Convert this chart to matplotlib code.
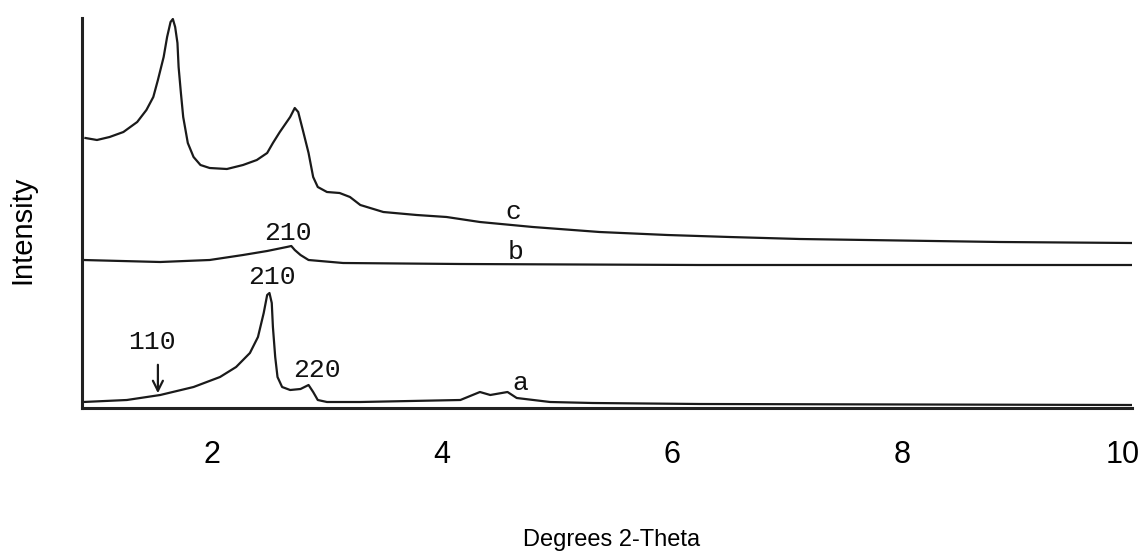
import matplotlib
matplotlib.use("Agg")
import matplotlib.pyplot as plt
import matplotlib.transforms as mtransforms

# XRD patterns (x in degrees 2-theta, intensity in arbitrary units)
x_c = [0.90, 1.00, 1.11, 1.23, 1.35, 1.43, 1.49, 1.53, 1.58, 1.61, 1.64, 1.66, 1.68,
       1.70, 1.71, 1.73, 1.75, 1.79, 1.84, 1.90, 1.98, 2.13, 2.27, 2.39, 2.48, 2.53,
       2.59, 2.68, 2.72, 2.75, 2.79, 2.84, 2.88, 2.92, 3.00, 3.11, 3.20, 3.29, 3.49,
       3.78, 4.04, 4.33, 4.79, 5.37, 5.96, 6.50, 7.11, 8.85, 10.0]
y_c = [270, 268, 271, 276, 286, 298, 311, 328, 351, 371, 386, 389, 381,
       365, 341, 315, 291, 265, 251, 243, 240, 239, 243, 248, 255, 265,
       276, 291, 300, 296, 278, 255, 231, 221, 216, 215, 211, 203, 196,
       193, 191, 186, 181, 176, 173, 171, 169, 166, 165]

x_b = [0.88, 1.55, 1.98, 2.27, 2.48, 2.65, 2.69, 2.72, 2.77, 2.84, 3.14, 4.16, 6.24, 10.0]
y_b = [148, 146, 148, 153, 157, 161, 162, 158, 153, 148, 145, 144, 143, 143]

x_a = [0.88, 1.26, 1.55, 1.84, 2.07, 2.21, 2.33, 2.40, 2.45, 2.48, 2.50, 2.52, 2.53,
       2.55, 2.57, 2.61, 2.68, 2.77, 2.84, 2.88, 2.92, 3.00, 3.29, 4.16, 4.33, 4.42,
       4.57, 4.65, 4.94, 5.31, 6.24, 10.0]
y_a = [6, 8, 13, 21, 31, 41, 55, 71, 95, 113, 115, 105, 81,
       51, 31, 21, 18, 19, 23, 16, 8, 6, 6, 8, 16, 13,
       16, 10, 6, 5, 4, 3]

xticks = [2, 4, 6, 8, 10]

sans = ['Liberation Sans Narrow', 'Liberation Sans', 'DejaVu Sans']
mono = ['Liberation Mono', 'DejaVu Sans Mono']

fig = plt.figure(figsize=(11.42, 5.57), dpi=100)
ax = fig.add_axes([82 / 1142, 1 - 408 / 557, 1050 / 1142, 390 / 557])

line_col = '#1a1a1a'
for xs, ys in [(x_c, y_c), (x_b, y_b), (x_a, y_a)]:
    ax.plot(xs, ys, color=line_col, lw=1.6, solid_joinstyle='round')

ax.set_xlim(0.87, 10.0)
ax.set_ylim(0, 390)

for s in ['top', 'right']:
    ax.spines[s].set_visible(False)
for s in ['left', 'bottom']:
    ax.spines[s].set_linewidth(2.2)
    ax.spines[s].set_color('#222222')

ax.set_yticks([])
ax.set_xticks(xticks)
ax.set_xticklabels([str(t) for t in xticks], family=sans, fontsize=22)
ax.tick_params(axis='x', length=0, pad=23)
# last label sits a bit left of its tick in the original
last = ax.get_xticklabels()[-1]
last.set_transform(last.get_transform() +
                   mtransforms.ScaledTranslation(-9 / 100, 0, fig.dpi_scale_trans))

# peak labels
lab = dict(family=mono, fontsize=19, ha='center', va='center', color='#111111')
ax.text(2.66, 408 - 233, '210', **lab)
ax.text(2.52, 408 - 277, '210', **lab)
ax.text(2.91, 408 - 370, '220', **lab)
ax.text(1.48, 408 - 342, '110', **lab)
ax.annotate('', xy=(1.53, 408 - 396), xytext=(1.53, 408 - 362),
            arrowprops=dict(arrowstyle='->', color=line_col, lw=1.6,
                            mutation_scale=18))
ax.text(4.62, 408 - 212, 'c', **lab)
ax.text(4.64, 408 - 252, 'b', **lab)
ax.text(4.68, 408 - 383, 'a', **lab)

fig.text(612 / 1142, 1 - 540 / 557, 'Degrees 2-Theta', family=sans,
         fontsize=17, ha='center', va='center')
fig.text(22 / 1142, 1 - 230 / 557, 'Intensity', family=sans,
         fontsize=21, rotation=90, ha='center', va='center')

fig.savefig('out.png', dpi=100)
